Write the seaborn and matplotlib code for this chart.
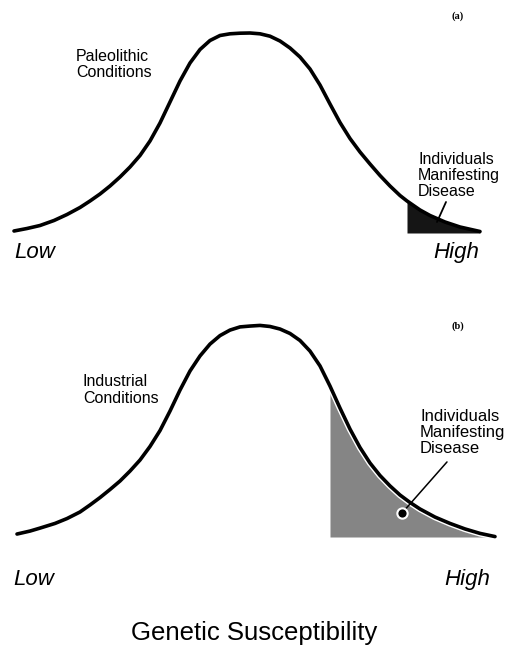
import matplotlib
matplotlib.use("Agg")
import matplotlib.pyplot as plt
import seaborn as sns
import pandas as pd

# ---------------- data ----------------
# genetic susceptibility (arbitrary units, 0 = population mean) vs relative frequency
paleo_x = [-2.95, -2.7875, -2.625, -2.45, -2.2875, -2.125, -2.0, -1.875, -1.75, -1.625,
           -1.5, -1.375, -1.25, -1.125, -1.0, -0.875, -0.75, -0.625, -0.5, -0.375,
           -0.25, -0.125, 0.0, 0.125, 0.25, 0.375, 0.5, 0.625, 0.75, 0.875, 1.0,
           1.125, 1.25, 1.375, 1.5, 1.625, 1.75, 1.875, 1.9625, 2.125, 2.25, 2.4375,
           2.625, 2.875]
paleo_y = [0.01, 0.0225, 0.0375, 0.0625, 0.0925, 0.1275, 0.16, 0.195, 0.235, 0.28,
           0.33, 0.3875, 0.46, 0.55, 0.655, 0.76, 0.85, 0.9175, 0.9625, 0.9875,
           0.996, 0.999, 1.0, 0.996, 0.984, 0.96, 0.925, 0.88, 0.82, 0.74, 0.645,
           0.5525, 0.4725, 0.405, 0.345, 0.2875, 0.235, 0.1875, 0.16, 0.115, 0.0875, 0.055,
           0.03, 0.0075]
paleo_threshold = 1.9625

indus_x = [-2.9125, -2.75, -2.625, -2.4375, -2.2875, -2.125, -2.0, -1.875, -1.75, -1.625,
           -1.5, -1.375, -1.25, -1.125, -1.0, -0.875, -0.75, -0.625, -0.5, -0.375,
           -0.25, -0.125, 0.0, 0.125, 0.25, 0.375, 0.5, 0.625, 0.75, 0.875, 1.0,
           1.125, 1.25, 1.375, 1.5, 1.625, 1.75, 1.875, 2.0, 2.125, 2.3125, 2.5,
           2.6875, 2.875, 3.0625]
indus_y = [0.014, 0.028, 0.042, 0.064, 0.087, 0.118, 0.151, 0.186, 0.224, 0.264,
           0.311, 0.363, 0.427, 0.502, 0.594, 0.693, 0.783, 0.854, 0.910, 0.950,
           0.976, 0.991, 0.995, 0.998, 0.993, 0.981, 0.960, 0.927, 0.877, 0.807, 0.712,
           0.608, 0.509, 0.422, 0.349, 0.290, 0.241, 0.198, 0.163, 0.132, 0.094, 0.064,
           0.038, 0.017, 0.002]
indus_threshold = 1.0

panel_tags = ["(a)", "(b)"]
condition_labels = [["Paleolithic", "Conditions"], ["Industrial", "Conditions"]]
disease_label = ["Individuals", "Manifesting", "Disease"]
axis_ends = ["Low", "High"]
x_title = "Genetic Susceptibility"

# ---------------- figure ----------------
W, H = 508, 645
sns.set_theme(style="white")
plt.rcParams["font.family"] = ["Liberation Sans", "DejaVu Sans"]
plt.rcParams["text.color"] = "black"
fig = plt.figure(figsize=(W / 100, H / 100), dpi=100)
fig.patch.set_facecolor("white")

def fxy(px, py):
    return px / W, 1 - py / H

# top panel axes covers pixel rows 0..300 ; bottom panel 300..645
ax1 = fig.add_axes([0, (H - 300) / H, 1, 300 / H])
ax2 = fig.add_axes([0, 0, 1, 345 / H])

df1 = pd.DataFrame({"x": paleo_x, "y": paleo_y})
df2 = pd.DataFrame({"x": indus_x, "y": indus_y})

# shaded tails
t1 = df1[df1.x >= paleo_threshold]
ax1.fill_between(t1.x, 0, t1.y, color="#151515", lw=0, zorder=1)
t2 = df2[df2.x >= indus_threshold]
ax2.fill_between(t2.x, 0, t2.y, color="#858585", lw=0, zorder=1)

# curves
sns.lineplot(data=df1, x="x", y="y", sort=False, ax=ax1, color="black", lw=2.6,
             solid_joinstyle="round", solid_capstyle="round", zorder=3)
ax2.plot(df2.x, df2.y, color="white", lw=4.6, zorder=2, solid_joinstyle="round")
sns.lineplot(data=df2, x="x", y="y", sort=False, ax=ax2, color="black", lw=2.6,
             solid_joinstyle="round", solid_capstyle="round", zorder=3)

ax1.set_xlim(-250 / 80, 258 / 80)
ax1.set_ylim((233 - 300) / 200, 233 / 200)
ax2.set_xlim(-250 / 80, 258 / 80)
ax2.set_ylim((537 - 645) / 212, (537 - 300) / 212)
for ax in (ax1, ax2):
    ax.set_axis_off()

# leader lines
ax1.plot([2.45, 2.3375], [0.155, 0.055], color="black", lw=1.3, zorder=4)
ax2.plot([2.4625, 1.9], [0.354, 0.113], color="black", lw=1.1, zorder=4)
ax2.scatter([1.9], [0.113], s=55, color="black", edgecolor="white", linewidth=1.5, zorder=5)

# ---------------- texts ----------------
fs = 11.5
fig.text(*fxy(76, 61), condition_labels[0][0], fontsize=fs, va="baseline", ha="left")
fig.text(*fxy(76, 77), condition_labels[0][1], fontsize=fs, va="baseline", ha="left")
for s, b in zip(disease_label, [164, 180, 196]):
    fig.text(*fxy(418, b), s, fontsize=fs, va="baseline", ha="left")

fig.text(*fxy(83, 386), condition_labels[1][0], fontsize=fs, va="baseline", ha="left")
fig.text(*fxy(83, 403), condition_labels[1][1], fontsize=fs, va="baseline", ha="left")
for s, b in zip(disease_label, [421, 437, 453]):
    fig.text(*fxy(420, b), s, fontsize=12, va="baseline", ha="left")

for tag, b in zip(panel_tags, [19, 329]):
    fig.text(*fxy(452, b), tag, fontsize=7.5, fontweight="bold", va="baseline",
             ha="left", family=["Liberation Serif", "DejaVu Serif"])

fig.text(*fxy(14, 258), axis_ends[0], fontsize=16, style="italic", va="baseline", ha="left")
fig.text(*fxy(479, 258), axis_ends[1], fontsize=16, style="italic", va="baseline", ha="right")
fig.text(*fxy(13, 585), axis_ends[0], fontsize=16, style="italic", va="baseline", ha="left")
fig.text(*fxy(490, 585), axis_ends[1], fontsize=16, style="italic", va="baseline", ha="right")

fig.text(*fxy(254, 640), x_title, fontsize=18.5, va="baseline", ha="center")

fig.savefig("out.png", dpi=100, facecolor="white")
